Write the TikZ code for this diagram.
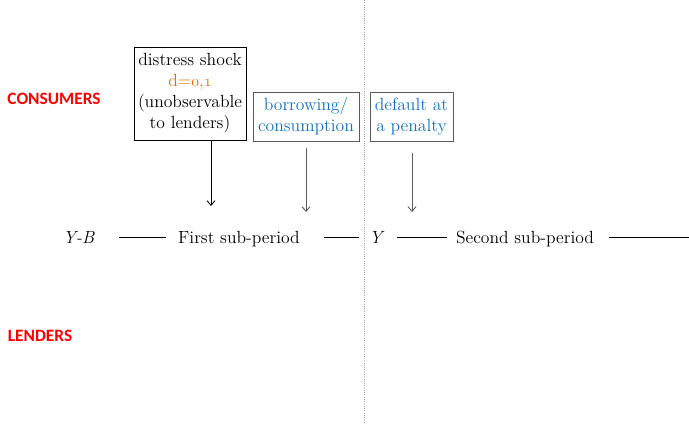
\documentclass[tikz,border=0pt]{standalone}
\usepackage{fontspec}
\newfontfamily\labelfont{Carlito}
\usetikzlibrary{arrows.meta}
% old-style figures taken from the math italic font
\newcommand\osnum[1]{{\usefont{OML}{cmm}{m}{it}#1}}
\definecolor{evblue}{HTML}{1172C2}
\definecolor{shockorange}{HTML}{E46C0A}
\definecolor{frame}{HTML}{595959}
\tikzset{
  x=0.75pt, y=-0.75pt,
  every node/.style={font=\fontsize{13.2}{15.8}\selectfont},
  event/.style={draw, line width=0.7pt, align=center, inner sep=1pt},
  sidelabel/.style={font=\labelfont\bfseries\fontsize{13}{15}\selectfont, text=red},
  tl/.style={inner sep=0pt, text height=10.5pt, text depth=1pt},
  tick/.style={-{Straight Barb[length=3.5pt,width=6pt]}, line width=0.65pt},
  seg/.style={line width=0.6pt}
}
\begin{document}
\begin{tikzpicture}
\useasboundingbox (0,0) rectangle (689,424);

% boundary between the two sub-periods
\draw[gray!70, densely dotted, line width=0.7pt] (364,0) -- (364,424);

% side labels
\node[sidelabel] (cons) at (54,99) {CONSUMERS};
\node[sidelabel] (lend) at (40,336) {LENDERS};

% event boxes
\node[event, minimum width=112*0.75pt, minimum height=93*0.75pt] (shock) at (190,93.5)
  {distress shock\\ \textcolor{shockorange}{d=\osnum{0},\osnum{1}}\\ (unobservable\\ to lenders)};
\node[event, draw=frame, text=evblue, minimum width=106*0.75pt, minimum height=49*0.75pt] (borrow) at (306,116.5)
  {borrowing/\\ consumption};
\node[event, draw=frame, text=evblue, minimum width=83*0.75pt, minimum height=49*0.75pt] (deflt) at (411.5,116.5)
  {default at\\ a penalty};

% time line
\node[tl] (yb) at (79,237) {\textit{Y-B}};
\node[tl] (first) at (239,237) {First sub-period};
\node[tl] (ymid) at (377,237) {\textit{Y}};
\node[tl] (second) at (525,237) {Second sub-period};
\coordinate (tend) at (689,237);

\draw[seg, shorten <=18pt, shorten >=9pt] (yb) -- (first);
\draw[seg, shorten <=18pt, shorten >=7.5pt] (first) -- (ymid);
\draw[seg, shorten <=9pt, shorten >=6.5pt] (ymid) -- (second);
\draw[seg, shorten <=11pt] (second) -- (tend);

% arrows from the events down to the time line
\coordinate (t1) at (211,206);
\coordinate (t2) at (306,212);
\coordinate (t3) at (412,212);
\draw[tick] (shock.south -| t1) -- (t1);
\draw[tick, frame, shorten <=5pt] (borrow.south -| t2) -- (t2);
\draw[tick, frame, shorten <=9pt] (deflt.south -| t3) -- (t3);
\end{tikzpicture}
\end{document}
